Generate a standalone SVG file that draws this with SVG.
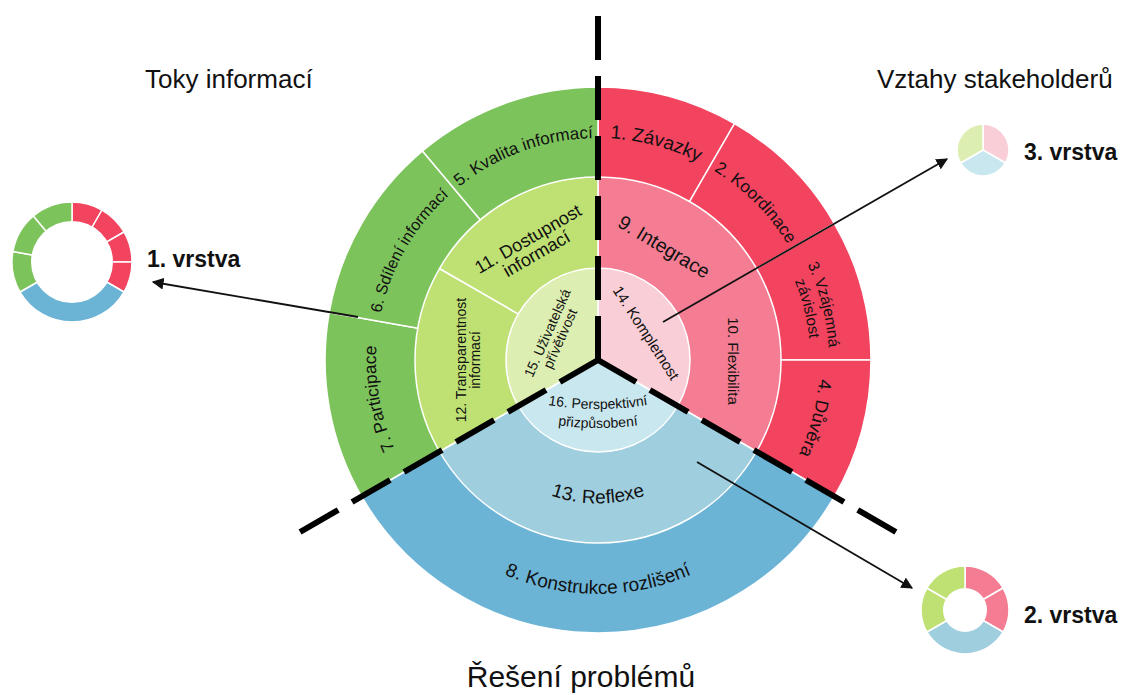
<svg xmlns="http://www.w3.org/2000/svg" width="1128" height="695" viewBox="0 0 1128 695">
<style>
text{font-family:"Liberation Sans",Arial,sans-serif;fill:#111}
.seg{stroke:#fff;stroke-width:1.5;stroke-linejoin:round}
.r1{fill:#F2435F}.r2{fill:#F47D93}.r3{fill:#F9CED7}
.g1{fill:#7DC35B}.g2{fill:#BFE173}.g3{fill:#DDEEB2}
.b1{fill:#6CB4D6}.b2{fill:#9FCEDF}.b3{fill:#C9E7EF}
.dash{stroke:#000;stroke-width:6;stroke-dasharray:44 16;fill:none}
.arrow{stroke:#111;stroke-width:1.8;fill:none;marker-end:url(#ah)}
.title{font-size:26px}
.layer{font-size:23px;font-weight:bold}
.c{text-anchor:middle}
</style>
<defs>
<marker id="ah" viewBox="0 0 10 10" refX="9" refY="5" markerWidth="6.5" markerHeight="6.5" orient="auto"><path d="M0,0 L10,5 L0,10 z" fill="#111"/></marker>
<path id="p1" d="M504.2,158.8 A222,222 0 0 1 779.9,232.7"/>
<path id="p2" d="M617.4,138.8 A222,222 0 0 1 819.2,340.6"/>
<path id="p3a" d="M733.8,174.6 A232,232 0 0 1 806.5,461.7"/>
<path id="p3b" d="M723.2,189.2 A213,213 0 0 1 789.4,453.4"/>
<path id="p4" d="M799.2,266.2 A222,222 0 0 1 725.3,541.9"/>
<path id="p5" d="M405.7,249.0 A222,222 0 0 1 673.9,151.4"/>
<path id="p6" d="M379.4,398.5 A222,222 0 0 1 522.1,151.4"/>
<path id="p7" d="M455.3,530.1 A222,222 0 0 1 405.7,249"/>
<path id="p8" d="M395.4,477 A234,234 0 0 0 800.6,477"/>
<path id="p13" d="M488.1,452.2 A143.5,143.5 0 0 0 707.9,452.2"/>
<path id="p16a" d="M528,401 Q598,417 668,401"/>
<path id="p16b" d="M533,421 Q598,435 663,421"/>
</defs>

<g id="wheel">
<g id="outer-ring">
<path class="seg r1" d="M598,360 L598,87 A273,273 0 0 1 734.5,123.6 Z"/>
<path class="seg r1" d="M598,360 L734.5,123.6 A273,273 0 0 1 834.4,223.5 Z"/>
<path class="seg r1" d="M598,360 L834.4,223.5 A273,273 0 0 1 871,360 Z"/>
<path class="seg r1" d="M598,360 L871,360 A273,273 0 0 1 834.4,496.5 Z"/>
<path class="seg b1" d="M598,360 L834.4,496.5 A273,273 0 0 1 361.6,496.5 Z"/>
<path class="seg g1" d="M598,360 L361.6,496.5 A273,273 0 0 1 329.2,312.6 Z"/>
<path class="seg g1" d="M598,360 L329.2,312.6 A273,273 0 0 1 422.5,150.9 Z"/>
<path class="seg g1" d="M598,360 L422.5,150.9 A273,273 0 0 1 598,87 Z"/>
</g>
<g id="middle-ring">
<path class="seg r2" d="M598,360 L598,177 A183,183 0 0 1 756.5,451.5 Z"/>
<path class="seg b2" d="M598,360 L756.5,451.5 A183,183 0 0 1 439.5,451.5 Z"/>
<path class="seg g2" d="M598,360 L439.5,451.5 A183,183 0 0 1 439.5,268.5 Z"/>
<path class="seg g2" d="M598,360 L439.5,268.5 A183,183 0 0 1 598,177 Z"/>
</g>
<g id="inner-ring">
<path class="seg r3" d="M598,360 L598,268 A92,92 0 0 1 677.7,406 Z"/>
<path class="seg b3" d="M598,360 L677.7,406 A92,92 0 0 1 518.3,406 Z"/>
<path class="seg g3" d="M598,360 L518.3,406 A92,92 0 0 1 598,268 Z"/>
</g>
</g>

<g id="n1"><text class="c" font-size="19"><textPath href="#p1" startOffset="50%">1. Závazky</textPath></text></g>
<g id="n2"><text class="c" font-size="17"><textPath href="#p2" startOffset="50%">2. Koordinace</textPath></text></g>
<g id="n3"><text class="c" font-size="15.5"><textPath href="#p3a" startOffset="50%">3. Vzájemná</textPath><textPath href="#p3b" startOffset="50%">závislost</textPath></text></g>
<g id="n4"><text class="c" font-size="18"><textPath href="#p4" startOffset="50%">4. Důvěra</textPath></text></g>
<g id="n5"><text class="c" font-size="17"><textPath href="#p5" startOffset="50%">5. Kvalita informací</textPath></text></g>
<g id="n6"><text class="c" font-size="16"><textPath href="#p6" startOffset="50%">6. Sdílení informací</textPath></text></g>
<g id="n7"><text class="c" font-size="17.5"><textPath href="#p7" startOffset="50%">7. Participace</textPath></text></g>
<g id="n8"><text class="c" font-size="19"><textPath href="#p8" startOffset="50%">8. Konstrukce rozlišení</textPath></text></g>
<g id="n9"><text class="c" font-size="19.5" transform="translate(664,247) rotate(31)" y="6.5">9. Integrace</text></g>
<g id="n10"><text class="c" font-size="15" transform="translate(733,361) rotate(90)" y="5">10. Flexibilita</text></g>
<g id="n11"><text class="c" font-size="18" transform="translate(532,246) rotate(-30)"><tspan x="0" y="-2">11. Dostupnost</tspan><tspan x="0" y="15">informací</tspan></text></g>
<g id="n12"><text class="c" font-size="14" transform="translate(468,360) rotate(-90)"><tspan x="0" y="-2">12. Transparentnost</tspan><tspan x="0" y="12">informací</tspan></text></g>
<g id="n13"><text class="c" font-size="19"><textPath href="#p13" startOffset="50%">13. Reflexe</textPath></text></g>
<g id="n14"><text class="c" font-size="15" transform="translate(646,333) rotate(57)" y="5">14. Kompletnost</text></g>
<g id="n15"><text class="c" font-size="14" transform="translate(554,336) rotate(-66)"><tspan x="0" y="-2.5">15. Uživatelská</tspan><tspan x="0" y="11.5">přívětivost</tspan></text></g>
<g id="n16"><text class="c" font-size="14"><textPath href="#p16a" startOffset="50%">16. Perspektivní</textPath><textPath href="#p16b" startOffset="50%">přizpůsobení</textPath></text></g>

<g id="dividers">
<path class="dash" d="M598,360 L598,13"/>
<path class="dash" d="M598,360 L297.5,533.5"/>
<path class="dash" d="M598,360 L898.5,533.5"/>
</g>

<g id="layer1">
<path class="seg r1" d="M72,262 L72,202 A60,60 0 0 1 102,210 Z"/>
<path class="seg r1" d="M72,262 L102,210 A60,60 0 0 1 124,232 Z"/>
<path class="seg r1" d="M72,262 L124,232 A60,60 0 0 1 132,262 Z"/>
<path class="seg r1" d="M72,262 L132,262 A60,60 0 0 1 124,292 Z"/>
<path class="seg b1" d="M72,262 L124,292 A60,60 0 0 1 20,292 Z"/>
<path class="seg g1" d="M72,262 L20,292 A60,60 0 0 1 12.9,251.6 Z"/>
<path class="seg g1" d="M72,262 L12.9,251.6 A60,60 0 0 1 33.4,216 Z"/>
<path class="seg g1" d="M72,262 L33.4,216 A60,60 0 0 1 72,202 Z"/>
<circle cx="72" cy="262" r="41" fill="#fff"/>
<text class="layer" x="147" y="267">1. vrstva</text>
</g>
<g id="layer2">
<path class="seg r2" d="M965,610 L965,566 A44,44 0 0 1 1003.1,588 Z"/>
<path class="seg r2" d="M965,610 L1003.1,588 A44,44 0 0 1 1003.1,632 Z"/>
<path class="seg b2" d="M965,610 L1003.1,632 A44,44 0 0 1 926.9,632 Z"/>
<path class="seg g2" d="M965,610 L926.9,632 A44,44 0 0 1 926.9,588 Z"/>
<path class="seg g2" d="M965,610 L926.9,588 A44,44 0 0 1 965,566 Z"/>
<circle cx="965" cy="610" r="22" fill="#fff"/>
<text class="layer" x="1024" y="623">2. vrstva</text>
</g>
<g id="layer3">
<path class="seg r3" d="M983,150 L983,124 A26,26 0 0 1 1005.5,163 Z"/>
<path class="seg b3" d="M983,150 L1005.5,163 A26,26 0 0 1 960.5,163 Z"/>
<path class="seg g3" d="M983,150 L960.5,163 A26,26 0 0 1 983,124 Z"/>
<text class="layer" x="1024" y="160">3. vrstva</text>
</g>

<g id="connectors">
<path class="arrow" d="M358,317 L153,282"/>
<path class="arrow" d="M663,322 L947,159"/>
<path class="arrow" d="M697,462 L912,588"/>
</g>

<g id="titles">
<text class="title" x="145" y="88">Toky informací</text>
<text class="title" x="877" y="88">Vztahy stakeholderů</text>
<text class="c" x="581" y="687" style="font-size:30px">Řešení problémů</text>
</g>
</svg>
